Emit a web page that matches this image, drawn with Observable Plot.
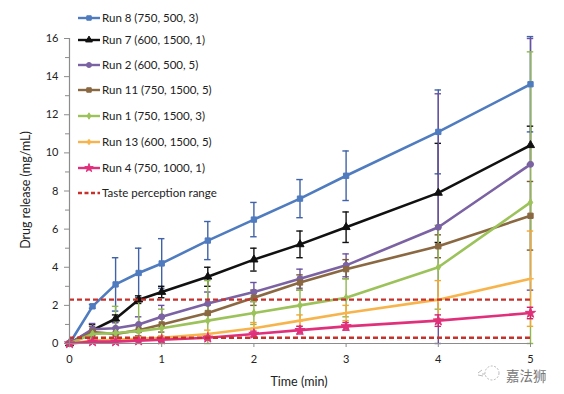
<!DOCTYPE html>
<html>
<head>
<meta charset="utf-8">
<script src="https://cdn.jsdelivr.net/npm/d3@7"></script>
<script src="https://cdn.jsdelivr.net/npm/@observablehq/plot@0.6"></script>
<style>
  html, body { margin: 0; padding: 0; background: #fff; }
  #chart { width: 564px; height: 394px; position: relative; }
  svg { font-family: Lato, "Open Sans", sans-serif; }
</style>
</head>
<body>
<div id="chart"></div>
<script>
// ---- data ----
const times = [0, 0.25, 0.5, 0.75, 1, 1.5, 2, 2.5, 3, 4, 5];

const run8  = [0, 1.95, 3.1, 3.7, 4.2, 5.4, 6.5, 7.6, 8.8, 11.1, 13.6];
const run8Err = [0, 0.1, 1.4, 1.3, 1.3, 1.0, 0.9, 1.0, 1.3, 2.2, 2.5];

const run7  = [0, 0.7, 1.3, 2.3, 2.7, 3.5, 4.4, 5.2, 6.1, 7.9, 10.4];
const run7Err = [0, 0.3, 0.2, 0.2, 0.3, 0.5, 0.6, 0.7, 0.8, 2.6, 1.0];

const run2  = [0, 0.75, 0.8, 1.0, 1.4, 2.1, 2.7, 3.4, 4.1, 6.1, 9.4];
const run2Err = [0, 0.3, 0.3, 0.4, 0.6, 0.6, 0.5, 0.5, 0.6, 7.0, 6.6];

const run11 = [0, 0.6, 0.5, 0.7, 1.0, 1.6, 2.4, 3.2, 3.9, 5.1, 6.7];
const run11Err = [0, 0.3, 0.3, 0.3, 0.4, 0.4, 0.4, 0.4, 0.5, 0.6, 1.8];

const run1  = [0, 0.5, 0.55, 0.65, 0.8, 1.2, 1.6, 2.0, 2.4, 4.0, 7.4];
const run1Err = [0, 0.2, 1.4, 1.7, 1.0, 2.1, 0.6, 0.8, 1.0, 2.2, 7.9];

const run13 = [0, 0.15, 0.2, 0.25, 0.3, 0.5, 0.8, 1.2, 1.6, 2.3, 3.4];
const run13Err = [0, 0.05, 0.05, 0.1, 0.1, 0.2, 0.3, 0.3, 0.4, 1.0, 2.5];

const run4  = [0, 0.1, 0.1, 0.15, 0.2, 0.3, 0.5, 0.7, 0.9, 1.2, 1.6];
const run4Err = [0, 0.05, 0.05, 0.05, 0.1, 0.1, 0.15, 0.2, 0.2, 0.3, 0.3];

const seriesNames = ["Run 8 (750, 500, 3)", "Run 7 (600, 1500, 1)", "Run 2 (600, 500, 5)",
  "Run 11 (750, 1500, 5)", "Run 1 (750, 1500, 3)", "Run 13 (600, 1500, 5)", "Run 4 (750, 1000, 1)"];
const seriesValues = [run8, run7, run2, run11, run1, run13, run4];
const seriesErrors = [run8Err, run7Err, run2Err, run11Err, run1Err, run13Err, run4Err];
const seriesColors = ["#4f7bbf", "#111111", "#7b62a3", "#8a6842", "#9cc25a", "#f7b44c", "#e0307c"];
const errColors    = ["#3f62a8", "#111111", "#6a52a0", "#7a5a36", "#8fb84d", "#f0a835", "#d02070"];
const seriesSymbols = ["square", "triangle", "circle", "square", "diamond", "plus", "star"];
const seriesR = [3.0, 3.0, 3.0, 3.0, 2.3, 2.2, 3.2];

const tasteRange = [2.3, 0.3];
const tasteLabel = "Taste perception range";

const yTicks = [0, 2, 4, 6, 8, 10, 12, 14, 16];
const yMinor = [1, 3, 5, 7, 9, 11, 13, 15];
const xTicks = [0, 1, 2, 3, 4, 5];

// ---- build table ----
const rows = [];
seriesNames.forEach((name, i) => {
  times.forEach((t, j) => rows.push({
    name, i, t, v: seriesValues[i][j], e: seriesErrors[i][j]
  }));
});

const marks = [];
// error bars (drawn below lines)
seriesNames.forEach((name, i) => {
  const d = rows.filter(r => r.i === i && r.e > 0);
  const lo = r => Math.max(0, r.v - r.e);
  const hi = r => Math.min(16.2, r.v + r.e);
  marks.push(Plot.ruleX(d, {x: "t", y1: lo, y2: hi, stroke: errColors[i], strokeWidth: 1.4}));
  marks.push(Plot.ruleY(d, {y: hi, x1: r => r.t - 0.035, x2: r => r.t + 0.035, stroke: errColors[i], strokeWidth: 1.4}));
  marks.push(Plot.ruleY(d, {y: lo, x1: r => r.t - 0.035, x2: r => r.t + 0.035, stroke: errColors[i], strokeWidth: 1.4}));
});
// lines + markers
seriesNames.forEach((name, i) => {
  const d = rows.filter(r => r.i === i);
  marks.push(Plot.line(d, {x: "t", y: "v", stroke: seriesColors[i], strokeWidth: 2.6}));
  marks.push(Plot.dot(d, {x: "t", y: "v", symbol: () => seriesSymbols[i], r: seriesR[i],
    fill: seriesColors[i], stroke: seriesColors[i], strokeWidth: seriesSymbols[i] === "plus" ? 1.5 : 1}));
});
// taste perception range
marks.push(Plot.ruleY(tasteRange, {x1: 0, x2: 5, stroke: "#c8302c", strokeWidth: 2.4, strokeDasharray: "5,3"}));
// axes
marks.push(Plot.ruleX([0], {y1: 0, y2: 16, stroke: "#8c8c8c", strokeWidth: 1.2}));
marks.push(Plot.ruleY([0], {x1: 0, x2: 5, stroke: "#8c8c8c", strokeWidth: 1.2}));
marks.push(Plot.axisY(yTicks, {tickSize: 5, stroke: "#8c8c8c", tickPadding: 6, fontSize: 11, fill: "#222", label: null}));
marks.push(Plot.axisY(yMinor, {tickSize: 4, stroke: "#8c8c8c", tickFormat: () => "", label: null}));
marks.push(Plot.axisX(xTicks, {tickSize: 4, stroke: "#8c8c8c", tickPadding: 8, fontSize: 11, fill: "#222", label: null}));

const chart = Plot.plot({
  width: 564,
  height: 394,
  marginLeft: 69,
  marginRight: 34,
  marginTop: 38,
  marginBottom: 51,
  x: {type: "linear", domain: [0, 5]},
  y: {type: "linear", domain: [0, 16]},
  style: {fontFamily: "Lato, 'Open Sans', sans-serif", background: "#fff", overflow: "visible"},
  marks
});

document.getElementById("chart").appendChild(chart);

const svg = d3.select(chart);
// axis titles
svg.append("text").attr("x", 299).attr("y", 386).attr("text-anchor", "middle")
  .attr("font-size", 12.5).attr("fill", "#222").text("Time (min)");
svg.append("text").attr("transform", "translate(30,190) rotate(-90)").attr("text-anchor", "middle")
  .attr("font-size", 12.5).attr("fill", "#222").text("Drug release (mg/mL)");

// legend
const legendY = [18, 40, 65, 90, 116, 142, 168];
const symMap = {square: d3.symbolSquare, triangle: d3.symbolTriangle, circle: d3.symbolCircle,
  diamond: d3.symbolDiamond, plus: d3.symbolCross, star: d3.symbolStar};
const lg = svg.append("g").attr("font-size", 11.5).attr("fill", "#222").attr("text-anchor", "start");
seriesNames.forEach((name, i) => {
  const y = legendY[i];
  lg.append("line").attr("x1", 78).attr("x2", 100).attr("y1", y).attr("y2", y)
    .attr("stroke", seriesColors[i]).attr("stroke-width", 2.4);
  const size = 2.2 * seriesR[i] * seriesR[i];
  lg.append("path").attr("d", d3.symbol(symMap[seriesSymbols[i]], size)())
    .attr("transform", `translate(89,${y})`).attr("fill", seriesColors[i]).attr("stroke", seriesColors[i]);
  lg.append("text").attr("x", 102).attr("y", y).attr("dy", "0.35em").text(name);
});
lg.append("line").attr("x1", 78).attr("x2", 100).attr("y1", 193).attr("y2", 193)
  .attr("stroke", "#c8302c").attr("stroke-width", 2.4).attr("stroke-dasharray", "4,2.5");
lg.append("text").attr("x", 102).attr("y", 193).attr("dy", "0.35em").text(tasteLabel);

// watermark
const wm = svg.append("g").attr("fill", "none").attr("stroke", "#aaa").attr("stroke-width", 0.8);
wm.append("circle").attr("cx", 492).attr("cy", 373).attr("r", 7).attr("stroke-dasharray", "2,1.5");
wm.append("path").attr("d", "M478,373 l4,-3 M478,375 l5,1 M482,374 l3,0");
svg.append("text").attr("x", 506).attr("y", 381).attr("font-size", 13.5).attr("text-anchor", "start")
  .attr("font-family", "'Noto Sans CJK SC', sans-serif").attr("fill", "#777").text("嘉法狮");
</script>
</body>
</html>
